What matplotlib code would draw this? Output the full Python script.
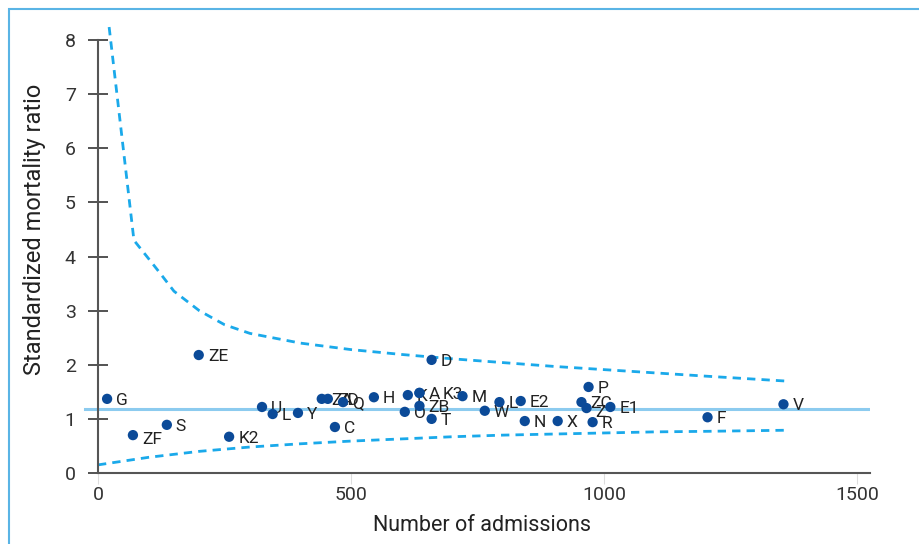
import matplotlib
matplotlib.use("Agg")
import matplotlib.pyplot as plt
from matplotlib.patches import Rectangle

# ---- data ----
names = ["G", "ZF", "S", "ZE", "K2", "U", "L", "Y", "ZA", "ZD", "Q", "C", "H",
         "K", "A", "K3", "O", "ZB", "T", "D", "M", "W", "L", "E2", "N", "X",
         "P", "ZC", "Z", "E1", "R", "F", "V"]
admissions = [18, 69, 136, 199, 259, 324, 345, 395, 442, 454, 484, 468, 545,
              612, 635, 635, 606, 635, 659, 659, 720, 764, 793, 835, 843, 908,
              969, 955, 965, 1012, 977, 1204, 1354]
smr = [1.37, 0.70, 0.89, 2.18, 0.67, 1.22, 1.09, 1.11, 1.37, 1.37, 1.31, 0.85, 1.40,
       1.44, 1.48, 1.48, 1.13, 1.24, 1.00, 2.09, 1.42, 1.15, 1.31, 1.33, 0.96, 0.96,
       1.59, 1.31, 1.20, 1.22, 0.94, 1.03, 1.27]

upper_x = [22, 71, 100, 122, 150, 200, 250, 300, 400, 500, 600, 700, 800, 900,
           1000, 1100, 1200, 1357]
upper_y = [8.24, 4.30, 3.96, 3.70, 3.36, 3.00, 2.74, 2.58, 2.40, 2.28, 2.19, 2.11,
           2.04, 1.97, 1.91, 1.85, 1.79, 1.70]
lower_x = [0, 100, 200, 300, 400, 500, 600, 700, 800, 900, 1000, 1100, 1200, 1357]
lower_y = [0.15, 0.29, 0.40, 0.48, 0.54, 0.59, 0.63, 0.67, 0.70, 0.72, 0.74, 0.76,
           0.77, 0.79]
ref_smr = 1.19

x_ticks = [0, 500, 1000, 1500]
y_ticks = [0, 1, 2, 3, 4, 5, 6, 7, 8]

# label offsets in points (style)
label_offsets = {"K3": (17, -1), "ZF": (7, -3), "Z": (6, -3)}

plt.rcParams["font.family"] = ["Roboto", "DejaVu Sans"]

fig = plt.figure(figsize=(9.2, 5.44), dpi=100)
ax = fig.add_axes([0.090, 0.1305, 0.8557, 0.8357])

dark = "#0b4a98"
dash = (0, (3, 2.2))
ax.plot([-25, 1525], [ref_smr, ref_smr], color="#8ccbef", lw=2.2, zorder=1)
ax.plot(upper_x, upper_y, color="#1aa9ea", lw=2.0, ls=dash, zorder=2)
ax.plot(lower_x, lower_y, color="#1aa9ea", lw=2.0, ls=dash, zorder=2)
ax.scatter(admissions, smr, s=55, color=dark, zorder=4, edgecolors="none")

for n, xv, yv in zip(names, admissions, smr):
    dx, dy = label_offsets.get(n, (6.5, -1.0))
    ax.annotate(n, (xv, yv), xytext=(dx, dy), textcoords="offset points",
                fontsize=12.5, color="#222222", va="center", ha="left", zorder=3)

ax.set_xlim(-30, 1525)
ax.set_ylim(0, 8.4)
for s in ["top", "right"]:
    ax.spines[s].set_visible(False)
ax.spines["left"].set_position(("data", 0))
ax.spines["left"].set_bounds(0, 8)
ax.spines["bottom"].set_bounds(0, 1525)
for s in ["left", "bottom"]:
    ax.spines[s].set_color("#555555")
    ax.spines[s].set_linewidth(1.5)

ax.set_xticks(x_ticks)
ax.set_yticks(y_ticks)
ax.tick_params(axis="y", direction="inout", length=14, width=1.3, color="#444444",
               labelsize=14, labelcolor="#333333", pad=9)
ax.tick_params(axis="x", direction="out", length=8, width=0.8, color="#dddddd",
               labelsize=14, labelcolor="#333333", pad=1)
ax.set_xlabel("Number of admissions", fontsize=15.5, color="#222222")
ax.set_ylabel("Standardized mortality ratio", fontsize=17, color="#222222")
ax.xaxis.set_label_coords(0.507, -0.115, transform=ax.transAxes)
ax.yaxis.set_label_coords(-0.047, 0.535)
ax.xaxis.label.set_va("center")

fig.patches.append(Rectangle((9 / 920, -0.05), 1.2, 1 - 9 / 544 + 0.05,
                             transform=fig.transFigure, fill=False,
                             edgecolor="#5ab4e5", lw=1.5))

fig.savefig("out.png", dpi=100)
